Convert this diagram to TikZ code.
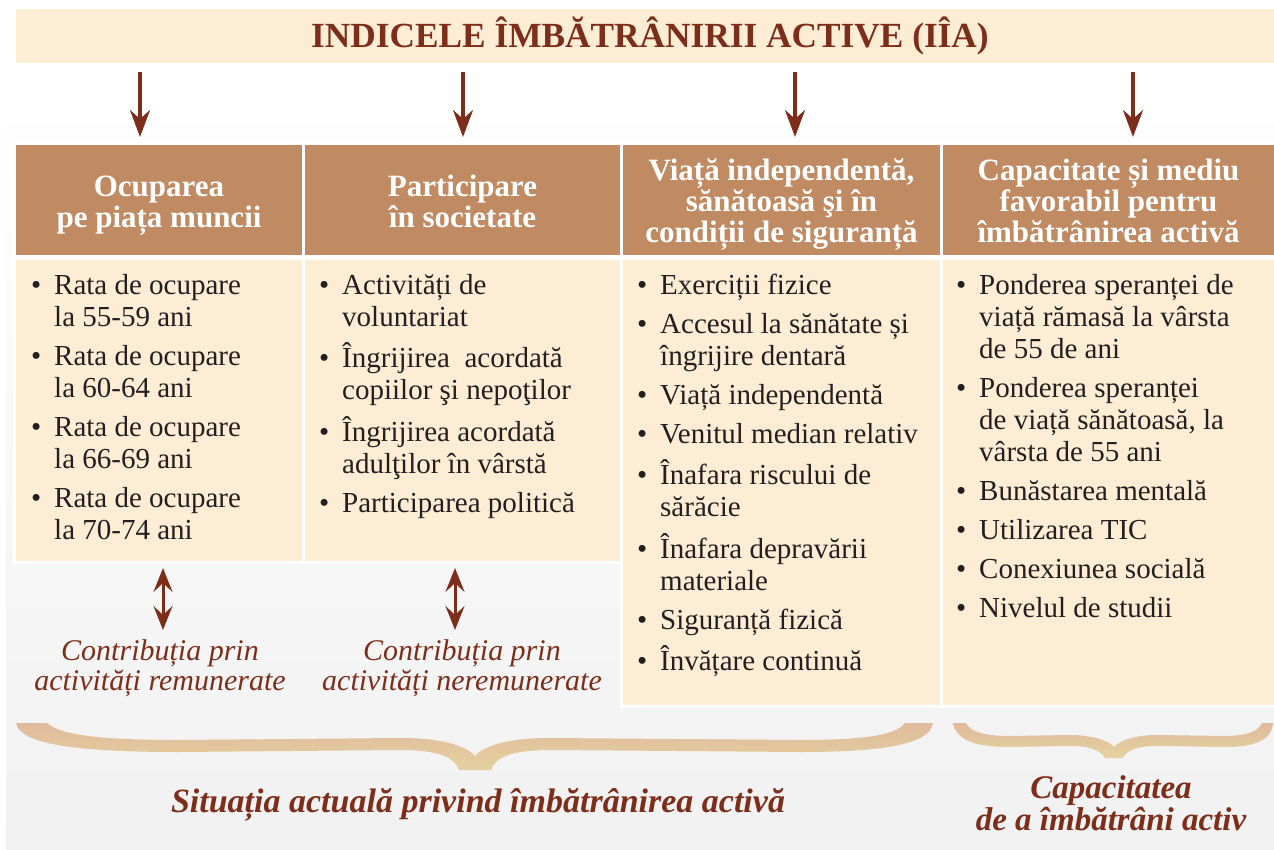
\documentclass[tikz,border=0pt]{standalone}
\usepackage{fontspec}
\setmainfont{Liberation Serif}
\usetikzlibrary{arrows.meta}
\definecolor{brn}{RGB}{125,46,26}
\definecolor{hdr}{RGB}{192,138,98}
\definecolor{cream}{RGB}{253,237,212}
\definecolor{txt}{RGB}{35,31,32}
\definecolor{bgg}{RGB}{241,241,241}
\definecolor{brA}{RGB}{224,186,156}
\definecolor{brB}{RGB}{229,210,160}
\begin{document}
\begin{tikzpicture}[x=1pt,y=-1pt,
  cell/.style={inner sep=0pt, outer sep=0pt, anchor=north west},
  hcell/.style={cell, fill=hdr},
  htext/.style={inner sep=0pt, yshift=-5.5pt, text=white, font=\bfseries\fontsize{31}{31}\selectfont},
  bcell/.style={cell, fill=cream},
  btext/.style={anchor=north west, inner sep=0pt, text=txt, font=\fontsize{29}{32}\selectfont},
  ctext/.style={anchor=north, inner sep=0pt, text=brn, font=\itshape\fontsize{30}{30}\selectfont},
  arr/.style={draw=brn, line width=4pt, -{Stealth[length=27pt,width=20pt,inset=9pt]}},
  dbl/.style={draw=brn, line width=3pt, {Stealth[length=24pt,width=19pt,inset=9pt]}-{Stealth[length=24pt,width=19pt,inset=9pt]}},
  brace/.style={top color=brA, bottom color=brB, draw=none}
]
\useasboundingbox (0,0) rectangle (1274,850);
\fill[white] (0,0) rectangle (1274,850);
\shade[top color=white, bottom color=bgg] (6,95) rectangle (1274,850);

% title
\node[cell, fill=cream, minimum width=1258pt, minimum height=54pt] (title) at (16,9) {};
\node[anchor=base, inner sep=0pt, text=brn, font=\bfseries\fontsize{35.3}{35}\selectfont] (ttl) at (650,48) {INDICELE ÎMBĂTRÂNIRII ACTIVE (IÎA)};

% white backing of the table
\fill[white] (13,142) rectangle (1274,564);
\fill[white] (620,564) rectangle (1274,708);

% headers
\node[hcell, minimum width=286pt, minimum height=110pt] (h1) at (16,145) {};
\node[hcell, minimum width=315pt, minimum height=110pt] (h2) at (305,145) {};
\node[hcell, minimum width=317pt, minimum height=110pt] (h3) at (623,145) {};
\node[hcell, minimum width=331pt, minimum height=110pt] (h4) at (943,145) {};
\node[htext] (ht1) at (h1.center) {\begin{tabular}{@{}c@{}}Ocuparea\\pe piața muncii\end{tabular}};
\node[htext] (ht2) at (h2.center) {\begin{tabular}{@{}c@{}}Participare\\în societate\end{tabular}};
\node[htext] (ht3) at (h3.center) {\begin{tabular}{@{}c@{}}Viață independentă,\\sănătoasă şi în\\condiții de siguranță\end{tabular}};
\node[htext] (ht4) at (h4.center) {\begin{tabular}{@{}c@{}}Capacitate și mediu\\favorabil pentru\\îmbătrânirea activă\end{tabular}};

% bodies
\node[bcell, minimum width=286pt, minimum height=301pt] (b1) at (16,260) {};
\node[bcell, minimum width=315pt, minimum height=301pt] (b2) at (305,260) {};
\node[bcell, minimum width=317pt, minimum height=445pt] (b3) at (623,260) {};
\node[bcell, minimum width=331pt, minimum height=445pt] (b4) at (943,260) {};

\node[btext] (t1) at (31,271.6) {\begin{tabular}{@{}p{23pt}@{}l@{}}
\textbullet & Rata de ocupare\\ & la 55-59 ani\\[7pt]
\textbullet & Rata de ocupare\\ & la 60-64 ani\\[7pt]
\textbullet & Rata de ocupare\\ & la 66-69 ani\\[7pt]
\textbullet & Rata de ocupare\\ & la 70-74 ani
\end{tabular}};
\node[btext] (t2) at (319,271.6) {\begin{tabular}{@{}p{23pt}@{}l@{}}
\textbullet & Activități de\\ & voluntariat\\[7pt]
\textbullet & Îngrijirea\ \ acordată\\ & copiilor şi nepoţilor\\[7pt]
\textbullet & Îngrijirea acordată\\ & adulţilor în vârstă\\[7pt]
\textbullet & Participarea politică
\end{tabular}};
\node[btext] (t3) at (637,271.6) {\begin{tabular}{@{}p{23pt}@{}l@{}}
\textbullet & Exerciții fizice\\[7pt]
\textbullet & Accesul la sănătate și\\ & îngrijire dentară\\[7pt]
\textbullet & Viață independentă\\[7pt]
\textbullet & Venitul median relativ\\[7pt]
\textbullet & Înafara riscului de\\ & sărăcie\\[7pt]
\textbullet & Înafara depravării\\ & materiale\\[7pt]
\textbullet & Siguranță fizică\\[7pt]
\textbullet & Învățare continuă
\end{tabular}};
\node[btext] (t4) at (956,271.6) {\begin{tabular}{@{}p{23pt}@{}l@{}}
\textbullet & Ponderea speranței de\\ & viață rămasă la vârsta\\ & de 55 de ani\\[7pt]
\textbullet & Ponderea speranței\\ & de viață sănătoasă, la\\ & vârsta de 55 ani\\[7pt]
\textbullet & Bunăstarea mentală\\[7pt]
\textbullet & Utilizarea TIC\\[7pt]
\textbullet & Conexiunea socială\\[7pt]
\textbullet & Nivelul de studii
\end{tabular}};

% arrows from title to headers
\coordinate (s1) at (140,72);
\coordinate (s2) at (463,72);
\coordinate (s3) at (795,72);
\coordinate (s4) at (1133,72);
\draw[arr, shorten >=8pt] (s1) -- (s1 |- h1.north);
\draw[arr, shorten >=8pt] (s2) -- (s2 |- h2.north);
\draw[arr, shorten >=8pt] (s3) -- (s3 |- h3.north);
\draw[arr, shorten >=8pt] (s4) -- (s4 |- h4.north);

% contribution texts
\node[ctext] (c1) at (160,639) {\begin{tabular}{@{}c@{}}Contribuția prin\\activități remunerate\end{tabular}};
\node[ctext] (c2) at (462,639) {\begin{tabular}{@{}c@{}}Contribuția prin\\activități neremunerate\end{tabular}};
\coordinate (d1) at (163,561);
\coordinate (d2) at (455,561);
\draw[dbl, shorten <=7pt, shorten >=9pt] (d1) -- (d1 |- c1.north);
\draw[dbl, shorten <=7pt, shorten >=9pt] (d2) -- (d2 |- c2.north);

% braces
\path[brace] (16,723) .. controls (20,745) and (80,752) .. (180,752) -- (400,750)
  .. controls (440,750) and (455,758) .. (459,770) -- (491,770)
  .. controls (495,758) and (510,750) .. (550,750) -- (800,752)
  .. controls (880,752) and (930,745) .. (933,723) -- (905,723)
  .. controls (895,736) and (860,740) .. (800,740) -- (550,738)
  .. controls (510,738) and (485,745) .. (475,756)
  .. controls (465,745) and (440,738) .. (400,738) -- (180,740)
  .. controls (100,740) and (60,735) .. (47,723) -- cycle;
\path[brace] (953,723) .. controls (956,740) and (975,747) .. (1010,747) -- (1070,746)
  .. controls (1090,746) and (1100,750) .. (1105,758) -- (1123,758)
  .. controls (1127,750) and (1137,746) .. (1157,746) -- (1225,747)
  .. controls (1255,747) and (1272,740) .. (1273,723) -- (1262,723)
  .. controls (1258,732) and (1245,736) .. (1225,736) -- (1157,735)
  .. controls (1137,735) and (1120,740) .. (1114,747)
  .. controls (1108,740) and (1090,735) .. (1070,735) -- (1010,736)
  .. controls (985,736) and (970,732) .. (966,723) -- cycle;

% bottom labels
\node[anchor=base, inner sep=0pt, text=brn, font=\bfseries\itshape\fontsize{34}{34}\selectfont] (sit) at (478,812) {Situația actuală privind îmbătrânirea activă};
\node[anchor=north, inner sep=0pt, text=brn, font=\bfseries\itshape\fontsize{33}{31}\selectfont] (cap) at (1111,775.3) {\begin{tabular}{@{}c@{}}Capacitatea\\de a îmbătrâni activ\end{tabular}};
\end{tikzpicture}
\end{document}
